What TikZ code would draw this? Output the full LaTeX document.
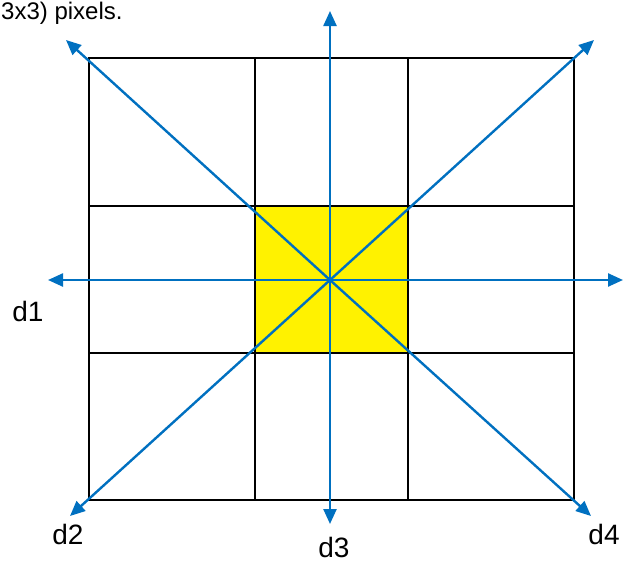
\documentclass[tikz,border=0pt]{standalone}
\usepackage{fontspec}
\setmainfont{Liberation Sans}
\usetikzlibrary{arrows.meta}
\definecolor{arrowblue}{HTML}{0070C0}
\tikzset{
  gridline/.style={black, line width=1.7pt},
  dirarrow/.style={arrowblue, line width=2.4pt, -{Triangle[length=15pt,width=13pt]}},
  dlabel/.style={font=\fontsize{28}{32}\selectfont, inner sep=0pt},
}
\begin{document}
\begin{tikzpicture}[x=1pt,y=-1pt]
\useasboundingbox (0,0) rectangle (629,565);
% yellow centre cell
\fill[yellow] (255,206) rectangle (408,353);
% grid
\draw[gridline] (89,58) rectangle (574,500);
\draw[gridline] (255,58) -- (255,500);
\draw[gridline] (408,58) -- (408,500);
\draw[gridline] (89,206) -- (574,206);
\draw[gridline] (89,353) -- (574,353);
% arrows
\coordinate (c) at (330,280);
\coordinate (up) at (330,11);
\coordinate (down) at (330,524);
\coordinate (left) at (48,280);
\coordinate (right) at (623,280);
\coordinate (tl) at (66,40);
\coordinate (tr) at (594,40);
\coordinate (bl) at (70,516);
\coordinate (br) at (591,516);
\foreach \t in {up,down,left,right,tl,tr,bl,br}
  \draw[dirarrow] (c) -- (\t);
% labels
\node[anchor=base west, inner sep=0pt, font=\fontsize{24}{28}\selectfont] (cap) at (1,19) {3x3) pixels.};
\node[dlabel] (d1) at (28,311) {d1};
\node[dlabel] (d2) at (68,534) {d2};
\node[dlabel, anchor=base] (d3) at (334,557) {d3};
\node[dlabel] (d4) at (604,534) {d4};
\end{tikzpicture}
\end{document}
